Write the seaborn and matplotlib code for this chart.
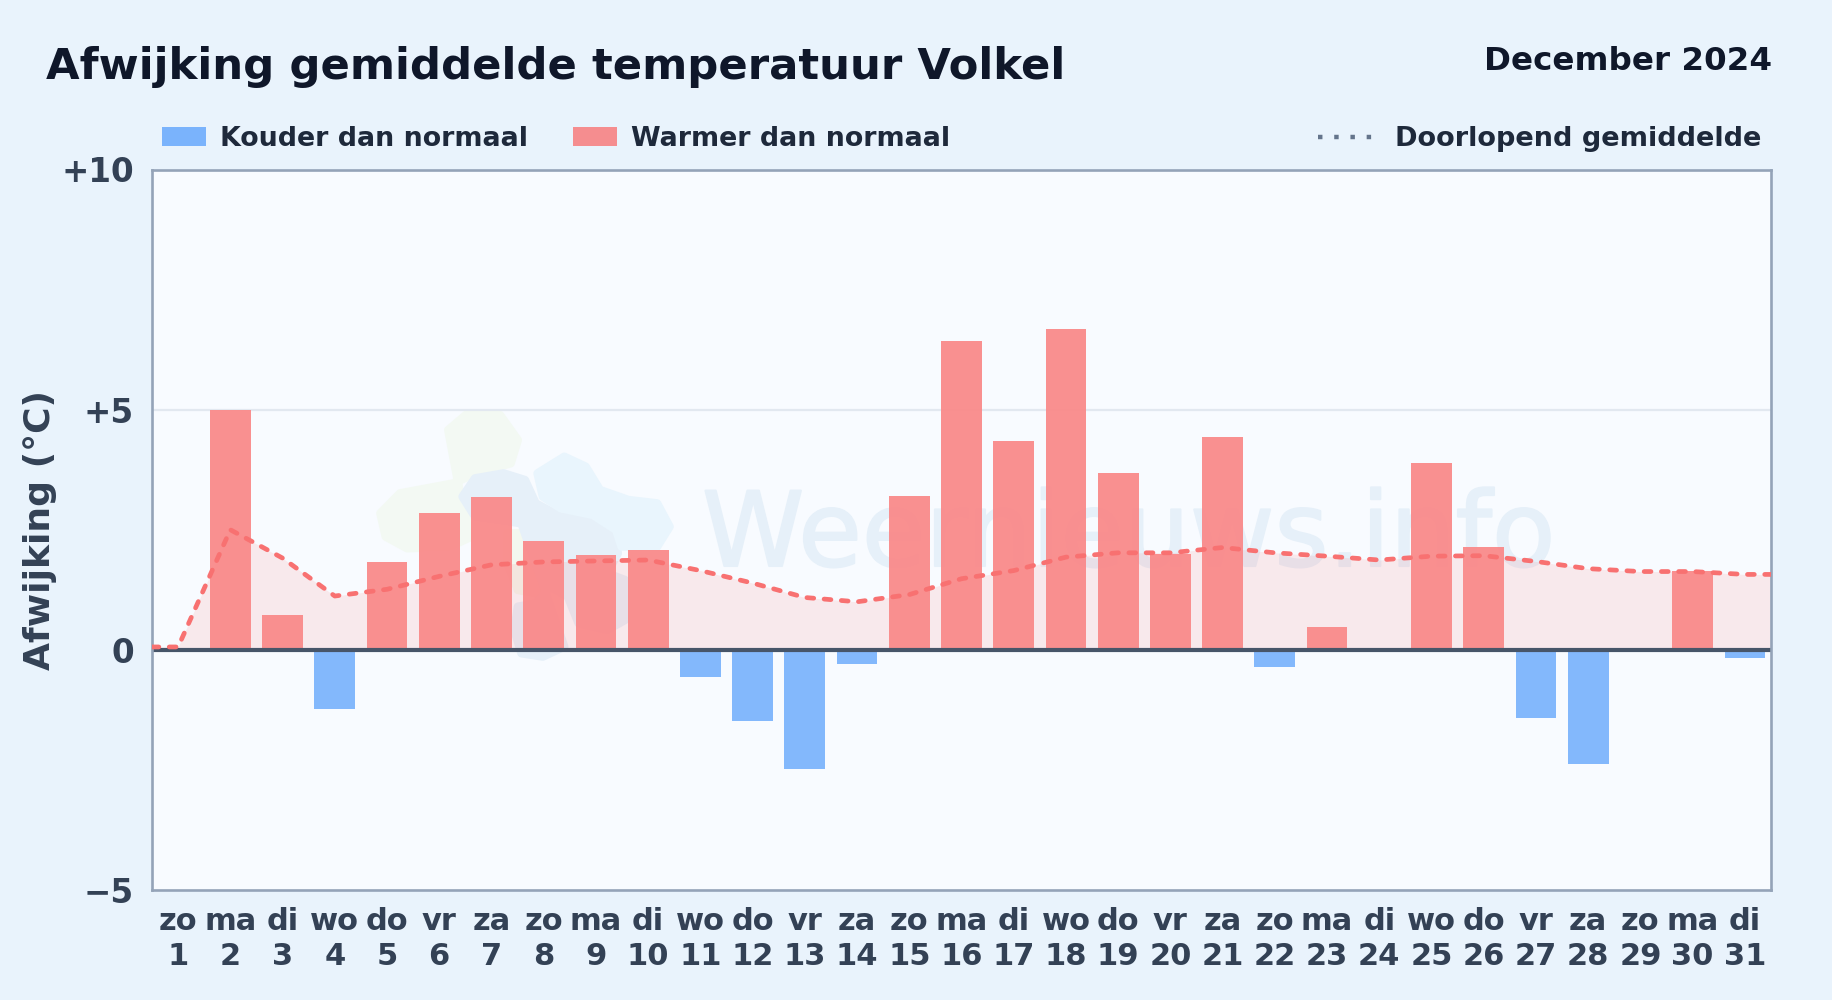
'''
Afwijking gemiddelde temperatuur Volkel, december 2024
'''
import pandas as pd
import numpy as np
import matplotlib
matplotlib.use('Agg')
import matplotlib.pyplot as plt
import matplotlib.transforms as mtrans
import matplotlib.patheffects as pe
from matplotlib.patches import Patch, Polygon
from matplotlib.lines import Line2D
import seaborn as sns

# data
weekdays = ['zo','ma','di','wo','do','vr','za','zo','ma','di','wo','do','vr','za','zo','ma',
            'di','wo','do','vr','za','zo','ma','di','wo','do','vr','za','zo','ma','di']
days = list(range(1, 32))
deviation = [0, 5.0, 0.72, -1.24, 1.82, 2.85, 3.19, 2.26, 1.97, 2.07, -0.57, -1.48, -2.48, -0.3, 3.2, 6.42,
             4.35, 6.68, 3.68, 2.0, 4.43, -0.35, 0.47, 0, 3.88, 2.15, -1.42, -2.37, 0, 1.65, -0.18]
running_mean = [0.06, 2.5, 1.91, 1.12, 1.26, 1.53, 1.77, 1.83, 1.85, 1.87, 1.65, 1.39, 1.09, 1.0, 1.15, 1.48,
                1.65, 1.93, 2.02, 2.02, 2.13, 2.02, 1.95, 1.87, 1.95, 1.96, 1.84, 1.69, 1.63, 1.63, 1.57]
yticks = [-5, 0, 5, 10]
ytick_labels = ['\u22125', '0', '+5', '+10']

BG = '#e9f3fc'
PANEL = '#f8fbff'
BLUE = '#7ab3fc'
RED = '#fa8888'
LINE = '#f87171'
DARK = '#0f172a'
LEGEND_TXT = '#1e293b'
TICK_TXT = '#334155'

sns.set_theme(style='white')
plt.rcParams['font.family'] = ['DejaVu Sans']
plt.rcParams['font.weight'] = 'bold'

df = pd.DataFrame({'label': [w + '\n' + str(d) for w, d in zip(weekdays, days)],
                   'deviation': deviation,
                   'side': ['warm' if v >= 0 else 'cold' for v in deviation]})

fig = plt.figure(figsize=(18.32, 10), dpi=100, facecolor=BG)
ax = fig.add_axes([152/1832, 110/1000, 1619/1832, 720.5/1000], facecolor=PANEL)

# watermark logo, traced outlines in pixels from the top left
px = mtrans.Affine2D().scale(1, -1).translate(0, 1000)
green = [(275,120),(330,70),(420,75),(470,150),(450,220),(350,250),(290,280),(240,290),(140,310),
         (85,370),(100,440),(160,475),(280,470),(340,440),(310,320)]
green2 = [(440,430),(500,430),(560,470),(580,560),(520,610),(470,600),(440,520)]
navy = [(315,320),(350,265),(430,250),(490,270),(520,340),(590,380),(680,380),(740,420),(750,490),
        (720,550),(770,570),(770,690),(720,720),(640,700),(610,620),(560,590),(520,640),(470,650),
        (460,720),(480,790),(540,800),(600,770),(480,400),(350,380)]
sky = [(525,250),(600,200),(660,230),(700,300),(780,330),(860,340),(895,410),(860,470),(760,470),
       (745,420),(680,375),(590,355),(540,320)]
for outline, col in [(green, '#f3f9f3'), (green2, '#f3f8ef'), (navy, '#e6f0f9'), (sky, '#e9f5fd')]:
    pts = np.array(outline, dtype=float) / [2.8, 3.0] + [350, 390]
    ax.add_patch(Polygon(pts, closed=True, transform=px, facecolor=col, edgecolor=col, lw=6,
                         joinstyle='round', zorder=0))
ax.text(702, 566, 'Weernieuws.info', transform=px, fontsize=74.5, fontweight='normal',
        color='#e6f0f9', ha='left', va='baseline', zorder=0.5,
        path_effects=[pe.withStroke(linewidth=1.5, foreground='#e6f0f9')])

ax.axhline(5, color='#e2e8f0', lw=1.6, zorder=1)

# area + running mean, running on to the panel edges
mean_x = np.array([-0.5] + [d - 1 for d in days] + [30.5])
mean_y = np.array([running_mean[0]] + running_mean + [running_mean[-1]])
ax.fill_between(mean_x, 0, mean_y, color=LINE, alpha=0.13, lw=0, zorder=1.5)

sns.barplot(data=df, x='label', y='deviation', hue='side', hue_order=['cold', 'warm'],
            palette={'cold': BLUE, 'warm': RED}, dodge=False, width=0.78, alpha=0.93,
            saturation=1, legend=False, ax=ax, zorder=2, linewidth=0)

sns.lineplot(x=mean_x, y=mean_y, color=LINE, lw=3.4, ax=ax, zorder=3, dashes=False,
             linestyle=(0, (1.45, 2.2)), dash_capstyle='round', errorbar=None, sort=False)

ax.axhline(0, color='#475569', lw=3.0, zorder=2.5)

ax.set_xlim(-0.5, 30.5)
ax.set_ylim(-5, 10)
ax.set_yticks(yticks)
ax.set_yticklabels(ytick_labels, fontsize=23.5, fontweight='bold', color=TICK_TXT)
ax.tick_params(axis='y', length=0, pad=13)
ax.tick_params(axis='x', length=0, pad=12)
for t in ax.get_xticklabels():
    t.set_fontsize(22)
    t.set_fontweight('bold')
    t.set_color(TICK_TXT)
    t.set_linespacing(1.26)
ax.set_xlabel('')
ax.set_ylabel('')
fig.text(40/1832, 1 - 530/1000, 'Afwijking (\u00b0C)', rotation=90, fontsize=26, fontweight='bold',
         color=TICK_TXT, ha='center', va='center')

for s in ax.spines.values():
    s.set_visible(True)
    s.set_color('#94a3b8')
    s.set_linewidth(1.9)

fig.text(46/1832, 1 - 67/1000, 'Afwijking gemiddelde temperatuur Volkel', fontsize=31.2, fontweight='bold',
         color=DARK, ha='left', va='center')
fig.text(1772/1832, 1 - 62/1000, 'December 2024', fontsize=23.4, fontweight='bold',
         color=DARK, ha='right', va='center')

# legends above the panel
left_leg = fig.legend(handles=[Patch(facecolor=BLUE, edgecolor='none', label='Kouder dan normaal'),
                               Patch(facecolor='#f58d8f', edgecolor='none', label='Warmer dan normaal')],
                      loc='center left', bbox_to_anchor=(162/1832, 1 - 139/1000), ncol=2, frameon=False,
                      fontsize=19.4, handlelength=1.65, handleheight=0.7, handletextpad=0.5, columnspacing=1.67,
                      labelcolor=LEGEND_TXT, borderaxespad=0, borderpad=0)
right_leg = fig.legend(handles=[Line2D([0], [0], color='#64748b', lw=3.2, linestyle=(0, (1.0, 2.65)),
                                       label='Doorlopend gemiddelde')],
                       loc='center right', bbox_to_anchor=(1761/1832, 1 - 139/1000), frameon=False,
                       fontsize=19.5, handlelength=2.05, handletextpad=0.78,
                       labelcolor=LEGEND_TXT, borderaxespad=0, borderpad=0)

plt.savefig('out.png', dpi=100, facecolor=BG)
plt.close()
